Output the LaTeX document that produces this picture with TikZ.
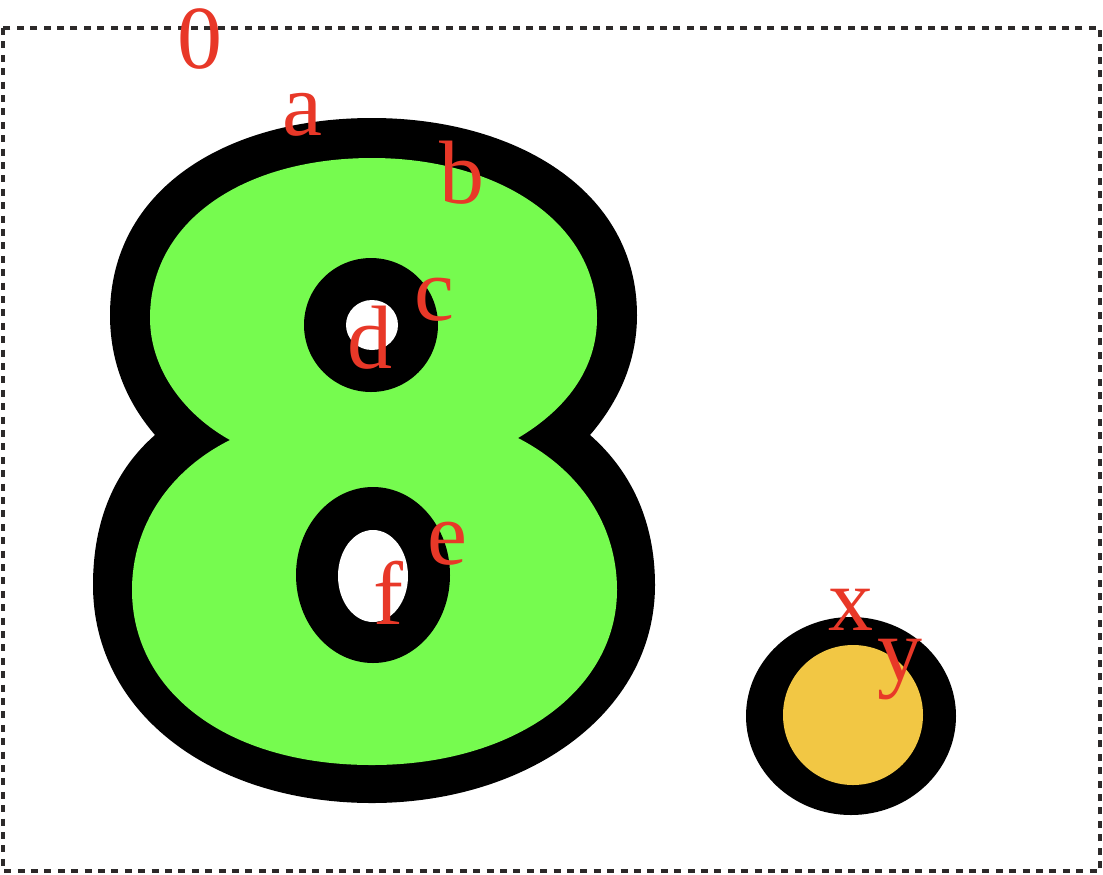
\documentclass[tikz,border=0pt]{standalone}
\usepackage{fontspec}
\setmainfont{Liberation Serif}
\usepackage{tikz}
\definecolor{eightgreen}{RGB}{118,251,79}
\definecolor{dotyellow}{RGB}{242,199,68}
\definecolor{lblred}{RGB}{232,56,40}
\definecolor{framegray}{RGB}{45,42,42}
\tikzset{
  lbl/.style={inner sep=0pt,text=lblred,font=\fontsize{45}{50}\selectfont},
  frame/.style={draw=framegray,line width=2pt,dash pattern=on 3.5pt off 3.2pt},
  outline/.style={fill=black},
  hole/.style={fill=white}}
\begin{document}
\begin{tikzpicture}[x=0.5pt,y=-0.5pt]
  \useasboundingbox (0,0) rectangle (1103,874);
  \draw[frame] (3,28) rectangle (1100,871);
  % the figure eight
  \fill[outline] (155,435) .. controls (125,400) and (110,360) .. (110,315)
    .. controls (110,190) and (225,118) .. (372,118)
    .. controls (515,118) and (637,190) .. (637,315)
    .. controls (637,360) and (620,400) .. (590,435)
    .. controls (630,470) and (655,520) .. (655,585)
    .. controls (655,715) and (525,803) .. (372,803)
    .. controls (215,803) and (93,715) .. (93,585)
    .. controls (93,520) and (115,470) .. (155,435) -- cycle;
  \fill[eightgreen] (230,440) .. controls (185,415) and (150,370) .. (150,318)
    .. controls (150,220) and (245,158) .. (372,158)
    .. controls (495,158) and (597,220) .. (597,318)
    .. controls (597,370) and (565,410) .. (518,438)
    .. controls (580,470) and (617,525) .. (617,590)
    .. controls (617,690) and (515,765) .. (372,765)
    .. controls (225,765) and (132,690) .. (132,590)
    .. controls (132,525) and (170,470) .. (230,440) -- cycle;
  \fill[outline] (371,325) ellipse [x radius=67,y radius=67];
  \fill[hole] (372,325) ellipse [x radius=26,y radius=25];
  \fill[outline] (373,575) ellipse [x radius=77,y radius=88];
  \fill[hole] (373,576) ellipse [x radius=35,y radius=46];
  % the dot
  \fill[outline] (851,716) ellipse [x radius=105,y radius=99];
  \fill[dotyellow] (853,715) circle [radius=70];
  % labels
  \node[lbl] (zero) at (200,39) {0};
  \node[lbl] (a) at (302,115) {a};
  \node[lbl] (b) at (462,173) {b};
  \node[lbl] (c) at (434,300) {c};
  \node[lbl] (d) at (370,338) {d};
  \node[lbl] (e) at (447,544) {e};
  \node[lbl] (f) at (388,593) {f};
  \node[lbl] (x) at (851,610) {x};
  \node[lbl] (y) at (900,670) {y};
\end{tikzpicture}
\end{document}
